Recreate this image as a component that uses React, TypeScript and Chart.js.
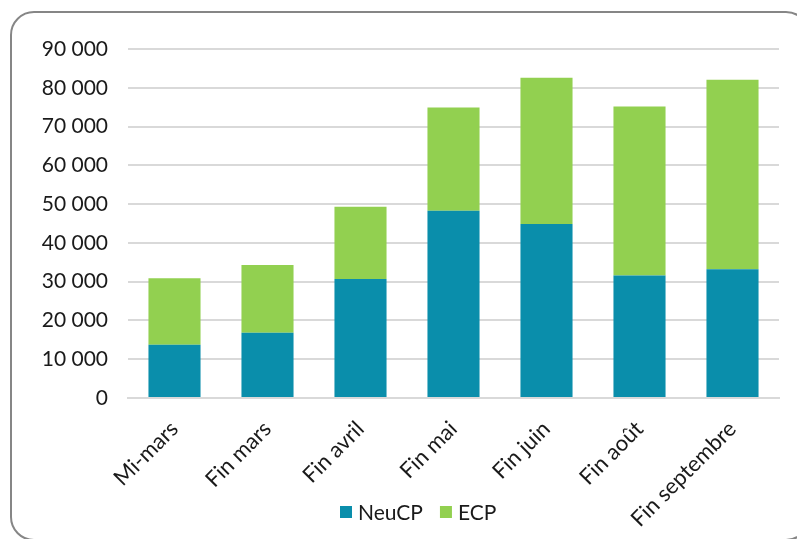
import React, { useEffect, useRef } from "react";
import { Chart, registerables } from "chart.js";

Chart.register(...registerables);

const categories = ["Mi-mars", "Fin mars", "Fin avril", "Fin mai", "Fin juin", "Fin août", "Fin septembre"];
const neucp = [13700, 16800, 30700, 48300, 44900, 31600, 33200];
const ecp = [17200, 17500, 18600, 26600, 37700, 43600, 48900];
const seriesNames = ["NeuCP", "ECP"];
const colors = ["#0A8EAB", "#92D050"];
const yMax = 90000;
const yStep = 10000;

const FONT = "Lato, 'Open Sans', sans-serif";
const FSIZE = 21;
const TEXT = "#1a1a1a";

function fmt(v: number): string {
  return String(Math.round(v)).replace(/\B(?=(\d{3})+(?!\d))/g, " ");
}

const legendPlugin = {
  id: "customLegend",
  afterDraw(chart: any) {
    const ctx = chart.ctx;
    const ds = chart.data.datasets;
    ctx.save();
    ctx.font = `${FSIZE}px ${FONT}`;
    ctx.textBaseline = "middle";
    ctx.textAlign = "left";
    const box = 12;
    const gapText = 6;
    const gapItem = 17;
    let x = chart.chartArea.left + 212;
    const y = chart.chartArea.bottom + 114;
    for (const d of ds) {
      ctx.fillStyle = d.backgroundColor;
      ctx.fillRect(x, y - box / 2, box, box);
      x += box + gapText;
      ctx.fillStyle = TEXT;
      ctx.fillText(d.label, x, y + 1);
      x += ctx.measureText(d.label).width + gapItem;
    }
    ctx.restore();
  },
};

export default function App() {
  const ref = useRef<HTMLCanvasElement | null>(null);
  useEffect(() => {
    if (!ref.current) return;
    const chart = new Chart(ref.current, {
      type: "bar",
      data: {
        labels: categories,
        datasets: [
          { label: seriesNames[0], data: neucp, backgroundColor: colors[0], categoryPercentage: 1, barPercentage: 0.56 },
          { label: seriesNames[1], data: ecp, backgroundColor: colors[1], categoryPercentage: 1, barPercentage: 0.56 },
        ],
      },
      plugins: [legendPlugin],
      options: {
        animation: false,
        responsive: false,
        layout: { padding: { left: 42, right: 18, top: 49, bottom: 11 } },
        plugins: {
          legend: { display: false },
          tooltip: { enabled: false },
        },
        scales: {
          x: {
            stacked: true,
            grid: { display: false, drawTicks: false },
            border: { color: "#D9D9D9", width: 2 },
            ticks: { minRotation: 45, maxRotation: 45, font: { family: FONT, size: 22 }, color: TEXT, padding: 18 },
            afterFit: (s: any) => { s.height = 130; s.paddingLeft = 0; s.paddingRight = 0; },
          },
          y: {
            stacked: true,
            min: 0,
            max: yMax,
            grid: { color: "#D9D9D9", lineWidth: 2, drawTicks: false },
            border: { display: false },
            ticks: { stepSize: yStep, font: { family: FONT, size: FSIZE }, color: TEXT, padding: 20, callback: (v: any) => fmt(Number(v)) },
            afterFit: (s: any) => { s.width = 86; },
          },
        },
      },
    });
    return () => chart.destroy();
  }, []);
  return (
    <div style={{ position: "fixed", left: 0, top: 0, width: 797, height: 539, overflow: "hidden", background: "#fff" }}>
      <div style={{ position: "absolute", left: 10, top: 11, width: 800, height: 530, border: "2.5px solid #868686", borderRadius: 24, boxSizing: "border-box" }} />
      <canvas ref={ref} width={797} height={539} style={{ position: "absolute", left: 0, top: 0 }} />
    </div>
  );
}
